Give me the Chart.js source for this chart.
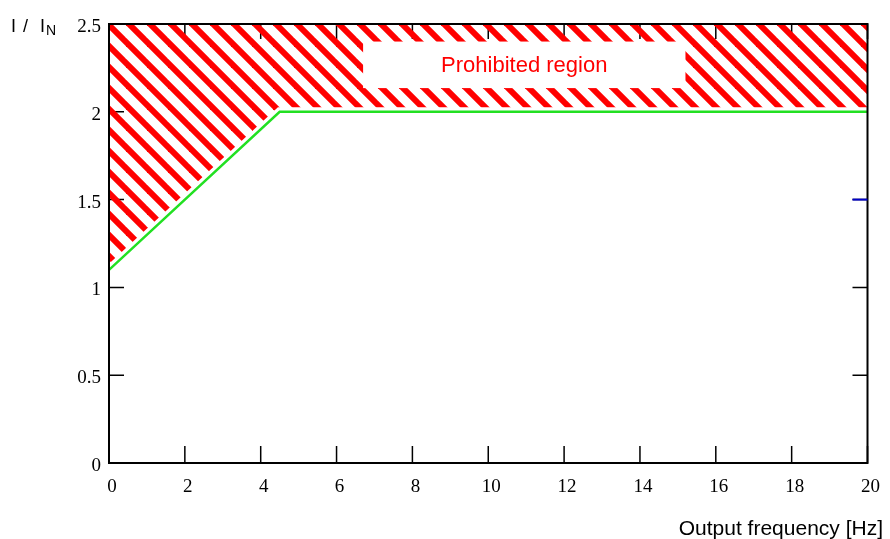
<!DOCTYPE html>
<html>
<head>
<meta charset="utf-8">
<script src="https://cdn.jsdelivr.net/npm/chart.js@4/dist/chart.umd.min.js"></script>
<style>
  html, body { margin:0; padding:0; background:#fff; }
  #wrap { width:890px; height:539px; position:relative; }
</style>
</head>
<body>
<div id="wrap"><canvas id="c" width="890" height="539"></canvas></div>
<script>
'use strict';

/* ── DATA ────────────────────────────────────────────────── */
const FREQ  = [0, 4.5, 20];        // Hz
const LIMIT = [1.1, 2.0, 2.0];     // I / IN
const X_TICKS = [0, 2, 4, 6, 8, 10, 12, 14, 16, 18, 20];
const Y_TICKS = [0, 0.5, 1, 1.5, 2, 2.5];
const MARK_Y  = [1.5];             // blue marker on right edge
const LABEL_TEXT = 'Prohibited region';
const LABEL_BOX  = [6.7, 15.2, 2.135, 2.40];   // x0, x1, y0, y1 in data units

/* ── HATCH PATTERN ───────────────────────────────────────── */
function hatch() {
  const s = 21;
  const c = document.createElement('canvas');
  c.width = s; c.height = s;
  const g = c.getContext('2d');
  g.strokeStyle = '#ff0000';
  g.lineWidth = 6;
  for (let k = -1; k <= 1; k++) {
    g.beginPath();
    g.moveTo(-5, -5 + k*s);
    g.lineTo(s+5, s+5 + k*s);
    g.stroke();
  }
  return g.createPattern(c, 'repeat');
}

/* ── DECORATION PLUGIN ───────────────────────────────────── */
const frame = {
  id:'frame',
  beforeDatasetsDraw(chart) {
    const {ctx, chartArea:a, scales:{x, y}} = chart;
    ctx.save();
    ctx.strokeStyle = '#000';
    ctx.lineWidth = 1.5;
    ctx.beginPath();
    X_TICKS.forEach(v => {
      const px = x.getPixelForValue(v);
      ctx.moveTo(px, a.bottom); ctx.lineTo(px, a.bottom - 17);
      ctx.moveTo(px, a.top);    ctx.lineTo(px, a.top + 15);
    });
    Y_TICKS.forEach(v => {
      const py = y.getPixelForValue(v);
      ctx.moveTo(a.left, py);  ctx.lineTo(a.left + 15, py);
      ctx.moveTo(a.right, py); ctx.lineTo(a.right - 15, py);
    });
    ctx.stroke();
    ctx.restore();
  },
  afterDatasetsDraw(chart) {
    const {ctx, chartArea:a, scales:{x, y}} = chart;
    ctx.save();
    // frame
    ctx.strokeStyle = '#000';
    ctx.lineWidth = 2;
    ctx.strokeRect(a.left, a.top, a.right - a.left, a.bottom - a.top);

    // blue marker
    ctx.strokeStyle = '#0000c8';
    ctx.lineWidth = 2;
    MARK_Y.forEach(v => {
      const py = y.getPixelForValue(v);
      ctx.beginPath(); ctx.moveTo(a.right - 15, py); ctx.lineTo(a.right, py); ctx.stroke();
    });

    // label box
    const bx0 = x.getPixelForValue(LABEL_BOX[0]), bx1 = x.getPixelForValue(LABEL_BOX[1]);
    const by0 = y.getPixelForValue(LABEL_BOX[3]), by1 = y.getPixelForValue(LABEL_BOX[2]);
    ctx.fillStyle = '#fff';
    ctx.fillRect(bx0, by0, bx1 - bx0, by1 - by0);
    ctx.fillStyle = '#ff0000';
    ctx.font = "22px 'Liberation Sans', Arial, sans-serif";
    ctx.textAlign = 'center';
    ctx.textBaseline = 'alphabetic';
    ctx.fillText(LABEL_TEXT, (bx0 + bx1)/2, by0 + 30);

    // y title: I / I with subscript N
    ctx.fillStyle = '#000';
    ctx.textAlign = 'left';
    ctx.font = "18px 'Liberation Sans', Arial, sans-serif";
    ctx.fillText('I', 11, 32);
    ctx.fillText('/', 23, 32);
    ctx.fillText('I', 40, 32);
    ctx.font = "14px 'Liberation Sans', Arial, sans-serif";
    ctx.fillText('N', 46, 35);

    ctx.font = "21px 'Liberation Sans', Arial, sans-serif";
    ctx.textAlign = 'right';
    ctx.fillText('Output frequency [Hz]', 883, 535);
    ctx.restore();
  }
};

/* ── CHART ───────────────────────────────────────────────── */
const pts = FREQ.map((f, i) => ({x:f, y:LIMIT[i]}));
const tickFont = { family:"'Liberation Serif', 'Times New Roman', serif", size:19 };

new Chart(document.getElementById('c'), {
  type:'line',
  data:{
    datasets:[
      { data:pts, fill:'end', backgroundColor:hatch(), borderColor:'#fff', borderWidth:9,
        pointRadius:0, tension:0, order:2 },
      { data:pts, fill:false, borderColor:'#22e022', borderWidth:2.5,
        pointRadius:0, tension:0, order:1 },
    ]
  },
  options:{
    responsive:false, animation:false,
    layout:{ padding:{ top:24, right:19, left:0, bottom:0 } },
    plugins:{ legend:{display:false}, tooltip:{enabled:false} },
    scales:{
      x:{
        type:'linear', min:0, max:20,
        afterFit:s => { s.height = 76; },
        afterBuildTicks:s => { s.ticks = X_TICKS.map(v => ({value:v})); },
        grid:{ display:false, drawTicks:false },
        border:{ display:false },
        ticks:{ color:'#000', font:tickFont, padding:13, labelOffset:3, maxRotation:0,
                callback:v => String(v) }
      },
      y:{
        min:0, max:2.5,
        afterFit:s => { s.width = 109; },
        afterBuildTicks:s => { s.ticks = Y_TICKS.map(v => ({value:v})); },
        grid:{ display:false, drawTicks:false },
        border:{ display:false },
        ticks:{ color:'#000', font:tickFont, padding:8, labelOffset:3,
                callback:v => String(v) }
      }
    }
  },
  plugins:[frame]
});
</script>
</body>
</html>
